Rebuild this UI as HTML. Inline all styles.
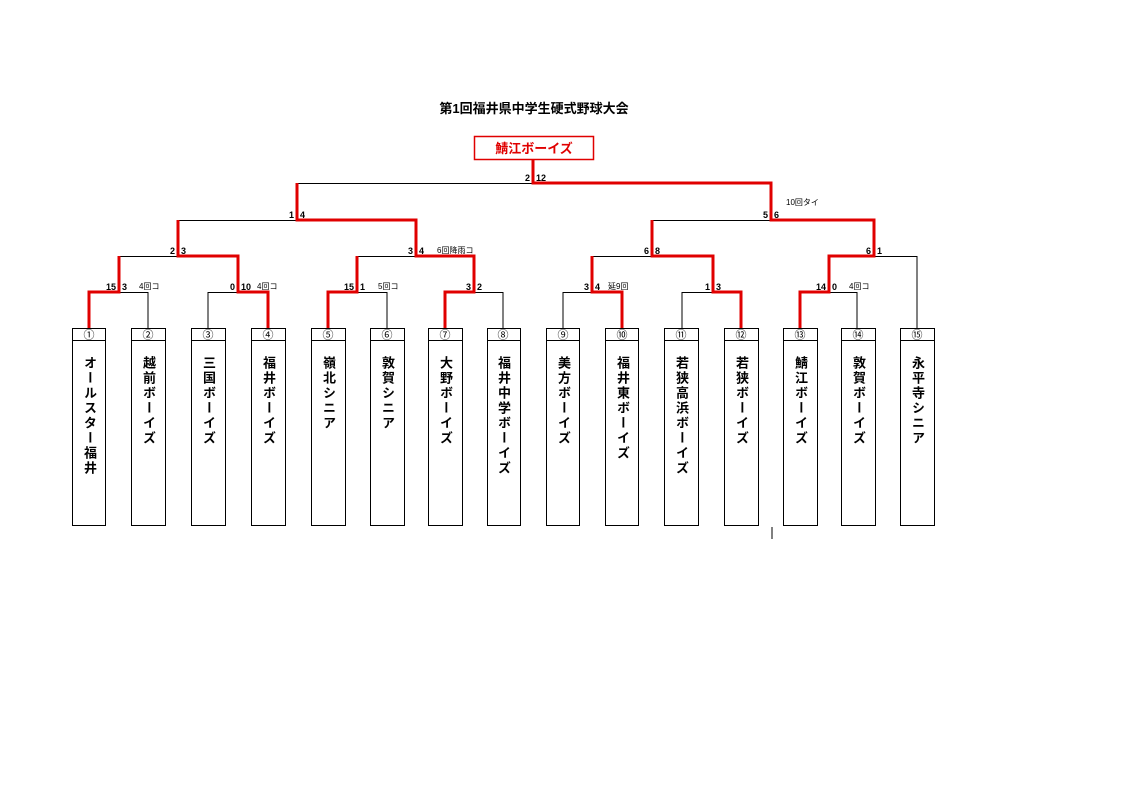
<!DOCTYPE html>
<html><head><meta charset="utf-8">
<style>
body{margin:0;width:1122px;height:793px;background:#fff;position:relative;overflow:hidden;font-family:"Liberation Sans","Noto Sans CJK JP",sans-serif;}
svg{position:absolute;left:0;top:0}
.n{position:absolute;top:356px;writing-mode:vertical-rl;text-orientation:upright;font-weight:bold;font-size:13px;letter-spacing:2px;line-height:14px;color:#000;}
</style></head><body>
<svg width="1122" height="793" viewBox="0 0 1122 793" font-family="Liberation Sans, Noto Sans CJK JP, sans-serif">
<text x="534" y="113" text-anchor="middle" font-size="13" font-weight="bold">第1回福井県中学生硬式野球大会</text>
<rect x="474.5" y="136.5" width="119" height="23" fill="none" stroke="#e00000" stroke-width="1.5"/>
<text x="534" y="153" text-anchor="middle" font-size="13" font-weight="bold" fill="#e00000">鯖江ボーイズ</text>
<g stroke="#000" stroke-width="1" fill="none">
<path d="M297 220V183.5H533"/>
<path d="M178 256V220.5H297"/>
<path d="M652 256V220.5H771"/>
<path d="M119 292V256.5H178"/>
<path d="M416 256.5H357V292"/>
<path d="M592 292V256.5H652"/>
<path d="M874 256.5H917V328"/>
<path d="M238 292.5H208V328"/>
<path d="M119 292.5H148V328"/>
<path d="M357 292.5H387V328"/>
<path d="M474 292.5H503V328"/>
<path d="M592 292.5H563V328"/>
<path d="M713 292.5H682V328"/>
<path d="M829 292.5H857V328"/>
<path d="M772 527V539"/>
</g>
<g stroke="#e00000" stroke-width="3" fill="none" stroke-linejoin="miter">
<path d="M533 160V183H771V220H874V256H829V292H800V328"/>
<path d="M297 183V220H416V256H474V292H445V328"/>
<path d="M178 220V256H238V292H268V328"/>
<path d="M119 256V292H89V328"/>
<path d="M357 256V292H328V328"/>
<path d="M652 220V256H713V292H741V328"/>
<path d="M592 256V292H622V328"/>
</g>
<g stroke="#000" stroke-width="1" fill="none">
<path d="M72.5 328V526M105.5 328V526M72 328.5H106M72 340.5H106M72 525.5H106"/>
<path d="M131.5 328V526M165.5 328V526M131 328.5H166M131 340.5H166M131 525.5H166"/>
<path d="M191.5 328V526M225.5 328V526M191 328.5H226M191 340.5H226M191 525.5H226"/>
<path d="M251.5 328V526M285.5 328V526M251 328.5H286M251 340.5H286M251 525.5H286"/>
<path d="M311.5 328V526M345.5 328V526M311 328.5H346M311 340.5H346M311 525.5H346"/>
<path d="M370.5 328V526M404.5 328V526M370 328.5H405M370 340.5H405M370 525.5H405"/>
<path d="M428.5 328V526M462.5 328V526M428 328.5H463M428 340.5H463M428 525.5H463"/>
<path d="M487.5 328V526M520.5 328V526M487 328.5H521M487 340.5H521M487 525.5H521"/>
<path d="M546.5 328V526M579.5 328V526M546 328.5H580M546 340.5H580M546 525.5H580"/>
<path d="M605.5 328V526M638.5 328V526M605 328.5H639M605 340.5H639M605 525.5H639"/>
<path d="M664.5 328V526M698.5 328V526M664 328.5H699M664 340.5H699M664 525.5H699"/>
<path d="M724.5 328V526M758.5 328V526M724 328.5H759M724 340.5H759M724 525.5H759"/>
<path d="M783.5 328V526M817.5 328V526M783 328.5H818M783 340.5H818M783 525.5H818"/>
<path d="M841.5 328V526M875.5 328V526M841 328.5H876M841 340.5H876M841 525.5H876"/>
<path d="M900.5 328V526M934.5 328V526M900 328.5H935M900 340.5H935M900 525.5H935"/>
</g>
<g font-size="11" text-anchor="middle">
<text x="89" y="338.5">①</text><text x="148" y="338.5">②</text><text x="208" y="338.5">③</text><text x="268" y="338.5">④</text><text x="328" y="338.5">⑤</text><text x="387" y="338.5">⑥</text><text x="445" y="338.5">⑦</text><text x="503" y="338.5">⑧</text><text x="563" y="338.5">⑨</text><text x="622" y="338.5">⑩</text><text x="681" y="338.5">⑪</text><text x="741" y="338.5">⑫</text><text x="800" y="338.5">⑬</text><text x="858" y="338.5">⑭</text><text x="917" y="338.5">⑮</text>
</g>
<g font-size="9" font-weight="bold">
<g text-anchor="end">
<text x="530" y="181">2</text><text x="294" y="218">1</text><text x="768" y="218">5</text>
<text x="175" y="254">2</text><text x="413" y="254">3</text><text x="649" y="254">6</text><text x="871" y="254">6</text>
<text x="116" y="290">15</text><text x="235" y="290">0</text><text x="354" y="290">15</text><text x="471" y="290">3</text><text x="589" y="290">3</text><text x="710" y="290">1</text><text x="826" y="290">14</text>
</g>
<text x="536" y="181">12</text><text x="300" y="218">4</text><text x="774" y="218">6</text>
<text x="181" y="254">3</text><text x="419" y="254">4</text><text x="655" y="254">8</text><text x="877" y="254">1</text>
<text x="122" y="290">3</text><text x="241" y="290">10</text><text x="360" y="290">1</text><text x="477" y="290">2</text><text x="595" y="290">4</text><text x="716" y="290">3</text><text x="832" y="290">0</text>
</g>
<g font-size="8">
<text x="786" y="205">10回タイ</text>
<text x="437" y="253">6回降雨コ</text>
<text x="139" y="289">4回コ</text>
<text x="257" y="289">4回コ</text>
<text x="378" y="289">5回コ</text>
<text x="608" y="289">延9回</text>
<text x="849" y="289">4回コ</text>
</g>
</svg>
<div class="n" style="left:82px">オールスター福井</div>
<div class="n" style="left:141px">越前ボーイズ</div>
<div class="n" style="left:201px">三国ボーイズ</div>
<div class="n" style="left:261px">福井ボーイズ</div>
<div class="n" style="left:321px">嶺北シニア</div>
<div class="n" style="left:380px">敦賀シニア</div>
<div class="n" style="left:438px">大野ボーイズ</div>
<div class="n" style="left:496px">福井中学ボーイズ</div>
<div class="n" style="left:556px">美方ボーイズ</div>
<div class="n" style="left:615px">福井東ボーイズ</div>
<div class="n" style="left:674px">若狭高浜ボーイズ</div>
<div class="n" style="left:734px">若狭ボーイズ</div>
<div class="n" style="left:793px">鯖江ボーイズ</div>
<div class="n" style="left:851px">敦賀ボーイズ</div>
<div class="n" style="left:910px">永平寺シニア</div>
</body></html>
